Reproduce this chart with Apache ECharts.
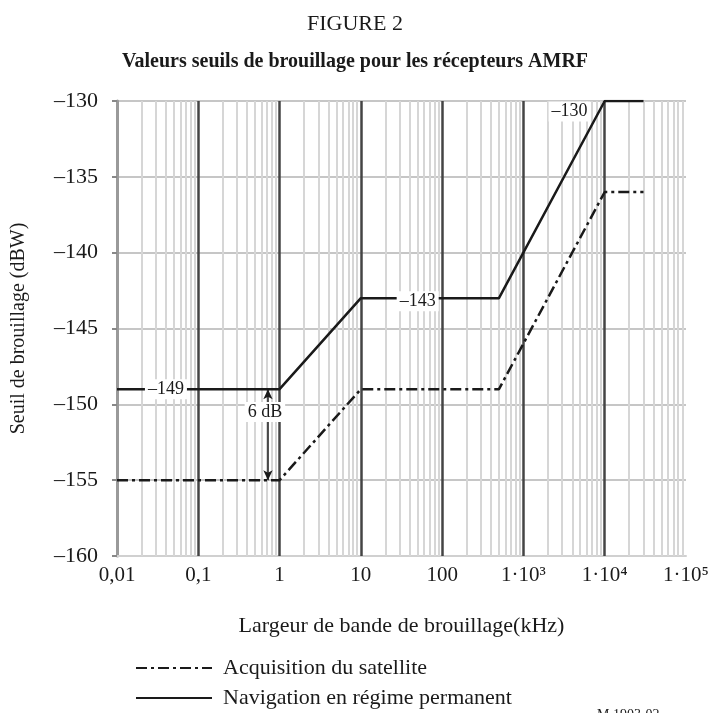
<!DOCTYPE html>
<html>
<head>
<meta charset="utf-8">
<script src="https://cdn.jsdelivr.net/npm/echarts@6/dist/echarts.min.js"></script>
<style>
  html, body { margin: 0; padding: 0; background: #fff; }
  #main { width: 710px; height: 713px; }
</style>
</head>
<body>
<div id="main"></div>
<script>
// breakpoints of the two threshold curves (kHz)
var bandwidth = [0.01, 1, 10, 500, 10000, 30000];
var navigation = [-149, -149, -143, -143, -130, -130];
var acquisition = [-155, -155, -149, -149, -136, -136];

var seriesNames = ['Acquisition du satellite', 'Navigation en régime permanent'];
var xTickLabels = ['0,01', '0,1', '1', '10', '100', '1·10³', '1·10⁴', '1·10⁵'];
var decades = [0.1, 1, 10, 100, 1000, 10000];

// value labels written on the curves
var curveLabels = [
    { x: 0.04, y: -149, text: '–149' },
    { x: 50, y: -143.2, text: '–143' },
    { x: 3700, y: -130.7, text: '–130' },
    { x: 0.66, y: -150.5, text: '6 dB' }
];

var serif = '"Liberation Serif", "DejaVu Serif", serif';
var ink = '#1a1a1a';

// light grid lines at 2..9 of each decade
var minorLines = [];
for (var k = -2; k < 5; k++) {
    for (var m = 2; m <= 9; m++) {
        minorLines.push({ xAxis: m * Math.pow(10, k) });
    }
}

var toPairs = function (xs, ys) {
    var res = [];
    for (var i = 0; i < xs.length; i++) {
        res.push([xs[i], ys[i]]);
    }
    return res;
};

var legendItem = function (name, top) {
    return {
        data: [name],
        left: 130,
        top: top,
        itemWidth: 76,
        itemHeight: 14,
        itemStyle: { opacity: 0 },
        textStyle: { fontFamily: serif, fontSize: 22, color: ink, padding: [0, 0, 0, 6] }
    };
};

var option = {
    backgroundColor: '#fff',
    animation: false,
    title: [
        {
            text: 'FIGURE 2',
            left: 'center',
            top: 8,
            textStyle: { fontFamily: serif, fontSize: 22, fontWeight: 'normal', color: ink }
        },
        {
            text: 'Valeurs seuils de brouillage pour les récepteurs AMRF',
            left: 'center',
            top: 47,
            textStyle: { fontFamily: serif, fontSize: 20, fontWeight: 'bold', color: ink }
        },
        {
            text: 'M.1903-02',
            left: 592,
            top: 703,
            textStyle: { fontFamily: serif, fontSize: 14, fontWeight: 'normal', color: ink }
        }
    ],
    legend: [
        legendItem(seriesNames[0], 652),
        legendItem(seriesNames[1], 682)
    ],
    grid: {
        left: 117,
        right: 24,
        top: 101,
        bottom: 157,
        outerBoundsMode: 'none'
    },
    xAxis: {
        type: 'log',
        logBase: 10,
        min: 0.01,
        max: 100000,
        name: 'Largeur de bande de brouillage(kHz)',
        nameLocation: 'middle',
        nameGap: 59,
        nameTextStyle: { fontFamily: serif, fontSize: 22, color: ink },
        axisLine: { show: true, lineStyle: { color: '#d0d0d0', width: 2 } },
        axisTick: { show: false },
        splitLine: { show: false },
        axisLabel: {
            fontFamily: serif,
            fontSize: 21,
            color: ink,
            margin: 9,
            formatter: function (v) {
                return xTickLabels[Math.round(Math.log10(v)) + 2];
            }
        }
    },
    yAxis: {
        type: 'value',
        min: -160,
        max: -130,
        interval: 5,
        name: 'Seuil de brouillage (dBW)',
        nameLocation: 'middle',
        nameGap: 88,
        nameTextStyle: { fontFamily: serif, fontSize: 20, color: ink },
        axisLine: { show: true, lineStyle: { color: '#9a9a9a', width: 3 } },
        axisTick: { show: true, length: 5, lineStyle: { color: '#888', width: 2 } },
        splitLine: { show: true, lineStyle: { color: '#c6c6c6', width: 2 } },
        axisLabel: {
            fontFamily: serif,
            fontSize: 22,
            color: ink,
            margin: 19,
            formatter: function (v) {
                return '–' + Math.abs(v);
            }
        }
    },
    series: [
        {
            name: 'minor-grid',
            type: 'line',
            data: [],
            silent: true,
            z: 1,
            markLine: {
                silent: true,
                z: 1,
                symbol: 'none',
                label: { show: false },
                lineStyle: { color: '#d6d6d6', width: 2, type: 'solid' },
                data: minorLines
            }
        },
        {
            name: 'decade-grid',
            type: 'line',
            data: [],
            silent: true,
            z: 2,
            markLine: {
                silent: true,
                z: 2,
                symbol: 'none',
                label: { show: false },
                lineStyle: { color: '#444', width: 2.5, type: 'solid' },
                data: decades.map(function (d) { return { xAxis: d }; })
            }
        },
        {
            name: seriesNames[0],
            type: 'line',
            data: toPairs(bandwidth, acquisition),
            showSymbol: false,
            symbol: 'none',
            z: 5,
            color: ink,
            lineStyle: { color: ink, width: 2.5, type: [11, 4, 3, 4] }
        },
        {
            name: seriesNames[1],
            type: 'line',
            data: toPairs(bandwidth, navigation),
            showSymbol: false,
            symbol: 'none',
            z: 6,
            color: ink,
            lineStyle: { color: ink, width: 2.5, type: 'solid' },
            markLine: {
                silent: true,
                z: 15,
                symbol: ['arrow', 'arrow'],
                symbolSize: [7, 10],
                label: { show: false },
                lineStyle: { color: ink, width: 1.5, type: 'solid' },
                data: [[{ coord: [0.72, -149] }, { coord: [0.72, -155] }]]
            },
            markPoint: {
                z: 20,
                symbol: 'rect',
                symbolSize: 1,
                itemStyle: { color: 'rgba(0,0,0,0)' },
                label: {
                    show: true,
                    position: 'inside',
                    fontFamily: serif,
                    fontSize: 18,
                    color: ink,
                    backgroundColor: '#fff',
                    padding: [1, 3],
                    formatter: function (p) { return p.data.text; }
                },
                data: curveLabels.map(function (c) {
                    return { coord: [c.x, c.y], text: c.text };
                })
            }
        }
    ]
};

var myChart = echarts.init(document.getElementById('main'));
myChart.setOption(option);
</script>
</body>
</html>
